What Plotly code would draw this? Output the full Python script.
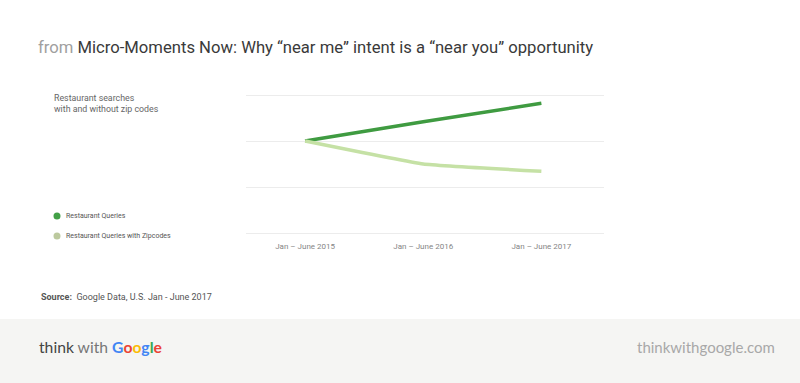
import plotly.graph_objects as go

W, H = 800, 383

periods = ["Jan – June 2015", "Jan – June 2016", "Jan – June 2017"]
queries = [100, 121, 141]
queries_zip = [100, 75, 67]
series_names = ["Restaurant Queries", "Restaurant Queries with Zipcodes"]
line_colors = ["#3f9b41", "#c5e1a5"]
legend_colors = ["#43a047", "#bcc99e"]
y_ticks = [0, 50, 100, 150]

def px(x):
    return x / W

def py(y):
    return 1 - y / H

# y axis: value 0 at pixel 233, value 150 at pixel 95
Y_LO, Y_HI = -5, 155
k = (233 - 95) / 150.0
top_px = 95 - (Y_HI - 150) * k
bot_px = 233 + (0 - Y_LO) * k

fig = go.Figure()
for name, vals, col in zip(series_names, [queries, queries_zip], line_colors):
    fig.add_trace(go.Scatter(
        x=periods, y=vals, mode="lines", name=name,
        line=dict(color=col, width=3.5, shape="spline", smoothing=0.3),
        showlegend=False, hoverinfo="x+y+name"))

fig.update_layout(
    width=W, height=H,
    margin=dict(l=0, r=0, t=0, b=0),
    paper_bgcolor="white", plot_bgcolor="white",
    font=dict(family="Roboto", color="#555"),
    xaxis=dict(domain=[px(246), px(604)], range=[-0.5, 2.53],
               showgrid=False, zeroline=False, showline=False,
               tickfont=dict(size=8, color="#858585"), ticks="", ticklen=0,
               ticklabelstandoff=int(round(max(0, 7 - (bot_px - 233))))),
    yaxis=dict(domain=[py(bot_px), py(top_px)], range=[Y_LO, Y_HI], tickvals=y_ticks,
               showticklabels=False, showgrid=True, gridcolor="#ececec",
               gridwidth=1, zeroline=False, showline=False),
    showlegend=False,
)

# footer background
fig.add_shape(type="rect", xref="paper", yref="paper", x0=0, x1=1, y0=0, y1=py(319),
              fillcolor="#f5f5f3", line=dict(width=0), layer="below")

ann = []
# legend (drawn manually: dot + label)
for i, (name, col) in enumerate(zip(series_names, legend_colors)):
    yc = 216 + 20 * i
    fig.add_shape(type="circle", xref="paper", yref="paper",
                  x0=px(53.5), x1=px(60.5), y0=py(yc + 3.5), y1=py(yc - 3.5),
                  fillcolor=col, line=dict(width=0))
    ann.append(dict(x=px(64), y=py(yc), xanchor="left", yanchor="middle",
                    text=name, font=dict(size=7, color="#555", family="Roboto")))

ann.append(dict(x=px(36), y=py(48), xanchor="left", yanchor="middle",
                text="<span style='color:#a0a0a0'>from</span> Micro-Moments Now: Why “near me” intent is a “near you” opportunity",
                font=dict(size=16.65, color="#3a3a3a", family="Roboto")))
ann.append(dict(x=px(52), y=py(103), xanchor="left", yanchor="middle", align="left",
                text="Restaurant searches<br>with and without zip codes",
                font=dict(size=8.8, color="#666", family="Roboto")))
ann.append(dict(x=px(39), y=py(297), xanchor="left", yanchor="middle",
                text="<b>Source:</b>  Google Data, U.S. Jan - June 2017",
                font=dict(size=9, color="#555", family="Roboto")))
ann.append(dict(x=px(37), y=py(347), xanchor="left", yanchor="middle",
                text="<span style='color:#444'>think</span> <span style='color:#777'>with</span> "
                     "<b><span style='color:#4285F4'>G</span><span style='color:#EA4335'>o</span>"
                     "<span style='color:#FBBC05'>o</span><span style='color:#4285F4'>g</span>"
                     "<span style='color:#34A853'>l</span><span style='color:#EA4335'>e</span></b>",
                font=dict(size=15.7, family="Lato")))
ann.append(dict(x=px(777), y=py(347), xanchor="right", yanchor="middle",
                text="thinkwithgoogle.com",
                font=dict(size=15, color="#a8a8a8", family="Lato")))
for a in ann:
    a.update(xref="paper", yref="paper", showarrow=False)
fig.update_layout(annotations=ann)

fig.write_html("out.html", config={"displayModeBar": False},
               post_script="document.body.style.margin='0';")
